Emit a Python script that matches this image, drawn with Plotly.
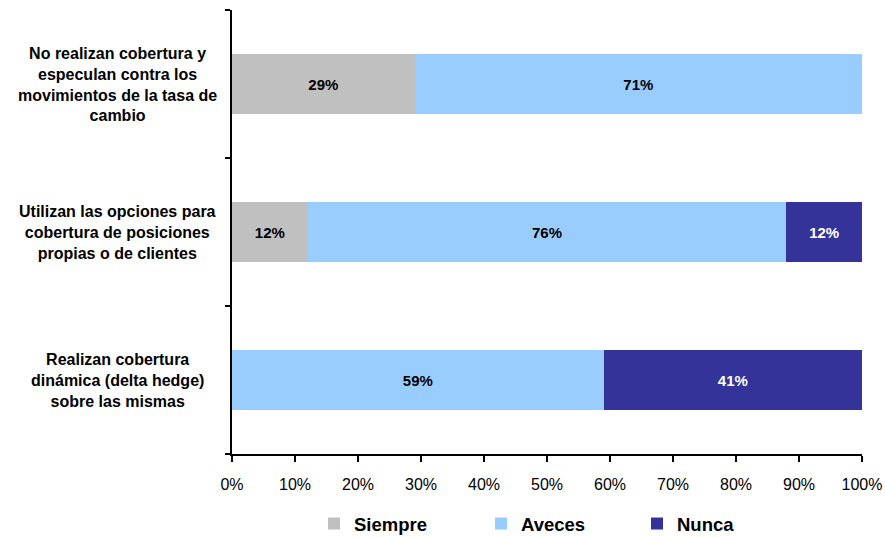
import plotly.graph_objects as go

# Survey statements (top to bottom as drawn)
categories = [
    "No realizan cobertura y<br>especulan contra los<br>movimientos de la tasa de<br>cambio",
    "Utilizan las opciones para<br>cobertura de posiciones<br>propias o de clientes",
    "Realizan cobertura<br>dinámica (delta hedge)<br>sobre las mismas",
]
siempre = [29, 12, 0]
aveces = [71, 76, 59]
nunca = [0, 12, 41]
x_ticks = [0, 10, 20, 30, 40, 50, 60, 70, 80, 90, 100]

keys = ["c0", "c1", "c2"]
FONT = "Liberation Sans, Arial"

# name, values, fill, label colour, legend id, legend left edge (px)
series = [
    ("Siempre", siempre, "#C0C0C0", "black", "legend", 314),
    ("Aveces", aveces, "#99CCFF", "black", "legend2", 481),
    ("Nunca", nunca, "#333399", "white", "legend3", 637),
]

fig = go.Figure()
legends = {}
for name, vals, color, tcolor, leg, left in series:
    fig.add_trace(go.Bar(
        y=keys, x=vals, name=name, orientation="h",
        marker=dict(color=color, line=dict(width=0)),
        width=0.4, legend=leg,
        text=[f"{v}%" if v else "" for v in vals],
        textposition="inside", insidetextanchor="middle", textangle=0,
        textfont=dict(family=FONT, size=15, color=tcolor, weight="bold"),
        hoverinfo="skip",
    ))
    legends[leg] = dict(
        orientation="h", xref="container", x=left / 885, xanchor="left",
        yref="container", y=(537 - 524) / 537, yanchor="middle",
        itemwidth=30, bgcolor="rgba(0,0,0,0)",
        font=dict(family=FONT, size=18.5, color="black", weight="bold"),
    )

# Category labels, centred in the left margin
label_centre_px = 117
for k, lab in zip(keys, categories):
    fig.add_annotation(
        x=(label_centre_px - 232) / 630, xref="paper", y=k, yref="y",
        text=lab, showarrow=False,
        xanchor="center", yanchor="middle", align="center",
        font=dict(family=FONT, size=16, color="black", weight="bold"),
    )

fig.update_layout(
    barmode="stack",
    width=885, height=537,
    margin=dict(l=232, r=23, t=10, b=83, autoexpand=False),
    paper_bgcolor="white", plot_bgcolor="white",
    showlegend=True,
    **legends,
    xaxis=dict(range=[0, 100], tickvals=x_ticks,
               ticktext=[f"{t}%" for t in x_ticks],
               showgrid=False, zeroline=False, showline=True,
               linecolor="black", linewidth=1.5, ticks="outside",
               ticklen=6, tickcolor="black", tickwidth=1.5,
               ticklabelstandoff=9, automargin=False,
               tickfont=dict(family=FONT, size=16, color="black")),
    yaxis=dict(type="category", categoryorder="array",
               categoryarray=keys[::-1], range=[-0.5, 2.5],
               showticklabels=False, showgrid=False, showline=True,
               linecolor="black", linewidth=1.5, ticks="outside",
               tickson="boundaries", ticklen=5, tickcolor="black",
               tickwidth=1.5, automargin=False),
)

fig.write_html("out.html")
